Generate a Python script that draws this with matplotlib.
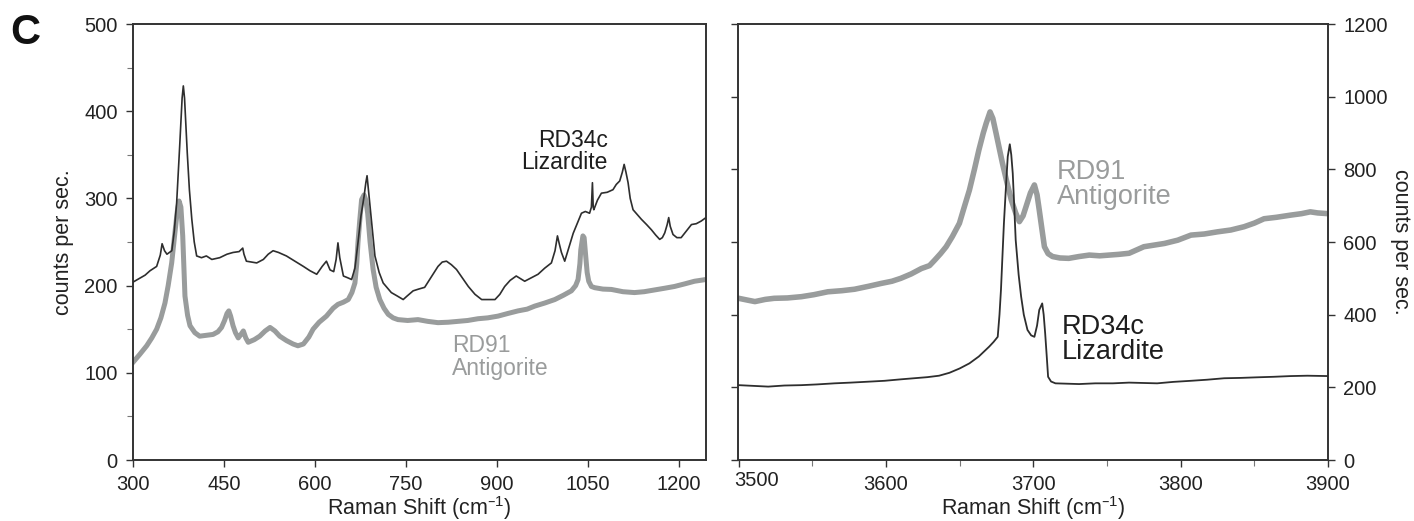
import matplotlib
matplotlib.use("Agg")
import matplotlib.pyplot as plt
from matplotlib.ticker import MultipleLocator
import matplotlib.transforms as mtransforms

plt.rcParams['font.family'] = ['Liberation Sans', 'DejaVu Sans']
plt.rcParams['mathtext.default'] = 'regular'

# ---------------- data ----------------
# Left panel: low-wavenumber region
lz_low_x = [300, 310, 320, 328, 339, 345, 348, 352, 356, 364, 368, 372, 377, 381, 383, 385, 389.5, 393, 397, 401,
            405, 413, 421, 430, 443, 455, 465, 475, 481, 483, 487, 496, 504, 515, 523, 531, 540, 553, 567, 581,
            592, 603, 612, 619, 625, 631, 635, 638, 641, 647, 654, 660.5, 666, 671, 676, 681, 684, 686, 688, 690.6,
            695, 699, 706, 712.6, 720, 726, 736, 745.6, 752, 762, 771, 781, 792, 803, 810, 817, 825, 833.5, 843, 853,
            864, 875, 886, 897, 905, 913, 922, 932, 939, 946, 957, 968, 979, 990, 996, 1000, 1003, 1006.6, 1012, 1019,
            1026, 1033, 1039.6, 1046, 1053, 1056, 1057.7, 1059, 1060, 1066, 1072.5, 1082, 1091.6, 1097, 1102.7, 1107,
            1110, 1113, 1116.5, 1120, 1124.7, 1131, 1138.5, 1147, 1155, 1162, 1168.6, 1173, 1177, 1181, 1183.5, 1186,
            1190.6, 1197, 1204, 1212, 1221, 1229, 1237, 1245]
lz_low_y = [204, 208, 212, 217, 222, 235, 248, 240, 236, 240, 262, 295, 360, 415, 429, 415, 352, 310, 276, 250,
            234, 232, 234, 230, 232, 236, 238, 239, 243, 236, 228, 227, 226, 230, 236, 240, 238, 234, 228, 222,
            217, 213, 222, 228, 218, 216, 230, 249, 232, 211, 209, 207, 220, 249, 280, 302, 318, 326, 312, 295,
            262, 234, 215, 203, 197, 192, 188, 184, 188, 194, 196, 198, 210, 222, 227, 228, 224, 218.5, 209, 199,
            190, 184, 184, 184, 190, 199, 206, 211, 208, 205, 209, 213, 220, 226, 240, 257, 248, 238, 228, 244,
            260, 272, 283, 285, 283, 290, 318, 290, 287, 298, 306, 307, 310, 316, 320, 330,
            339, 330, 318, 300, 287, 282, 276, 270, 264, 258, 253, 255, 260.5, 270, 278, 268,
            258.6, 255, 255, 262, 270, 271, 274, 278]

an_low_x = [300, 311, 322.6, 331, 339, 346, 352.7, 358, 363.8, 369, 373, 376, 379, 382, 384, 385.7, 390, 394, 402, 410,
            421, 432, 440, 446, 451, 455, 458, 461, 465, 469, 473.6, 478, 482, 486, 490, 500, 509, 518, 526, 534,
            542, 553, 564, 572, 581, 590, 597, 607, 619, 630, 638, 647, 655, 661, 666, 669, 671, 674, 677, 681,
            684, 687, 691, 696, 701, 707, 714, 721, 729, 737, 753, 770, 786, 803, 820, 836, 852, 869, 885, 902,
            918, 935, 950, 962.6, 979, 995.6, 1010, 1023, 1030, 1034, 1037, 1038.5, 1042, 1044, 1046.6, 1049, 1051.6,
            1056, 1061.5, 1075, 1089, 1108, 1127, 1143, 1160, 1177, 1193, 1210, 1226, 1245]
an_low_y = [112, 121, 131, 140, 150, 163, 180, 200, 226, 260, 285, 297, 290, 257, 220, 188, 166, 154, 146, 142,
            143, 144, 147, 152, 160, 168, 171, 165, 154, 146, 140, 144, 148, 140, 135, 138, 142, 148, 152, 148,
            142, 137, 133, 131, 133, 141, 150, 158, 165, 174, 178.5, 181, 184, 192, 203, 225, 249, 275, 298.6, 304,
            298, 283, 250, 218.5, 198, 184, 174, 167, 163, 161, 160, 161, 159, 157.5, 158, 159, 160, 162, 163, 165,
            168, 171, 173, 176.5, 180, 184, 189, 194, 200, 207, 225, 241, 257, 255, 234, 215, 205,
            199, 197.6, 196, 195.6, 193, 192, 193, 195, 197, 199, 202, 205, 207]

# Right panel: OH-stretching region
an_oh_x = [3500, 3506, 3511, 3518, 3524, 3533, 3542.5, 3551, 3560.5, 3570, 3578.6, 3588, 3596.7, 3604, 3610, 3617,
           3624, 3629.5, 3633, 3637, 3640.8, 3645, 3649.8, 3653, 3656.6, 3660, 3663, 3666, 3668, 3670.6, 3672.5,
           3674.7, 3677, 3679, 3682, 3685, 3688, 3690.5, 3693, 3695, 3698, 3700.7, 3702.5, 3704, 3706, 3707.5,
           3710, 3713, 3718, 3724, 3731, 3738, 3745, 3751.5, 3758, 3765, 3775, 3789, 3798, 3807, 3816, 3825, 3834,
           3843, 3850, 3856.6, 3865, 3874.7, 3882, 3888, 3893, 3900]
an_oh_y = [445, 440, 436, 442, 445, 446, 449.5, 455, 463, 466, 470, 478, 486, 492, 500, 512,
           527, 535, 550, 568, 587, 615, 651.5, 695, 743, 800, 853, 900, 927, 958, 940,
           899, 855, 817, 765, 716, 680, 656, 672, 697, 735, 757, 730, 688, 630, 587,
           568, 560, 556, 555, 560, 564, 562, 564, 566, 569, 587, 596, 605, 619, 622, 628, 633,
           642, 652, 664, 668, 674, 678, 683, 680, 678]

lz_oh_x = [3500, 3510, 3520, 3531, 3542.5, 3553, 3565, 3576, 3587.7, 3599, 3610, 3619, 3628, 3636, 3643, 3650,
           3656.6, 3663, 3670, 3673, 3675.8, 3677, 3678, 3679, 3680, 3681.5, 3682.6, 3684, 3685, 3686, 3687,
           3688, 3690, 3691.7, 3693.5, 3696, 3698.5, 3700.7, 3702.5, 3704, 3706, 3707, 3708, 3709, 3710, 3712,
           3715, 3723, 3731, 3742, 3754, 3765, 3784, 3795, 3807, 3818, 3829.5, 3841, 3852, 3863, 3874.7, 3886, 3900]
lz_oh_y = [206, 204, 202, 205, 206, 208, 211, 213, 215.5, 218, 222, 225, 228, 232, 240, 252,
           266, 285, 312, 325, 339, 400, 468, 560, 651, 760, 835, 869, 840, 789, 700,
           605.5, 510, 449.5, 400, 358, 343, 339, 370, 413, 431, 400, 349, 290, 229, 216,
           211, 210, 209, 211, 211, 213, 211, 215, 218, 221, 225, 226, 227.6, 229, 231, 232, 231]

low_ticks = [300, 450, 600, 750, 900, 1050, 1200]
oh_ticks = [3500, 3600, 3700, 3800, 3900]
oh_ticklabels = ['3500', '3600', '3700', '3800', '3900']
left_yticks = [0, 100, 200, 300, 400, 500]
right_yticks = [0, 200, 400, 600, 800, 1000, 1200]

DARK = '#2e2e2e'
GRAY = '#999c9c'
SPINE = '#333333'
TXT = '#222222'
TICKFS = 14.5
LABFS = 15.5

fig = plt.figure(figsize=(14.14, 5.21), dpi=100)
ax1 = fig.add_axes([133/1414, 61/521, 573/1414, 436/521])
ax2 = fig.add_axes([738/1414, 61/521, 590/1414, 436/521])

# left panel
ax1.plot(an_low_x, an_low_y, color=GRAY, lw=3.6, solid_joinstyle='round', zorder=2)
ax1.plot(lz_low_x, lz_low_y, color=DARK, lw=1.2, zorder=3)
ax1.set_xlim(300, 1245)
ax1.set_ylim(0, 500)
ax1.set_xticks(low_ticks)
ax1.set_yticks(left_yticks)
ax1.yaxis.set_minor_locator(MultipleLocator(50))
ax1.set_xlabel('Raman Shift (cm$^{\u2013\mathregular{1}}$)', fontsize=LABFS, labelpad=0, color=TXT)
ax1.set_ylabel('counts per sec.', fontsize=LABFS, labelpad=7, color=TXT)
ax1.text(1083, 380, 'RD34c\nLizardite', ha='right', va='top', fontsize=16.5, color='#1e1e1e',
         linespacing=0.95)
ax1.text(826, 144, 'RD91\nAntigorite', ha='left', va='top', fontsize=16.5, color='#9a9c9c',
         linespacing=0.95)

# right panel
ax2.plot(an_oh_x, an_oh_y, color=GRAY, lw=4.0, solid_joinstyle='round', zorder=2)
ax2.plot(lz_oh_x, lz_oh_y, color=DARK, lw=1.3, zorder=3)
ax2.set_xlim(3499.5, 3900)
ax2.set_ylim(0, 1200)
ax2.set_xticks(oh_ticks)
ax2.set_xticklabels([''] + oh_ticklabels[1:])
ax2.xaxis.set_minor_locator(MultipleLocator(50))
ax2.set_yticks(right_yticks)
ax2.tick_params(axis='y', which='both', left=True, right=True, labelleft=False, labelright=True)
ax2.yaxis.set_label_position('right')
ax2.set_xlabel('Raman Shift (cm$^{\u2013\mathregular{1}}$)', fontsize=LABFS, labelpad=0, color=TXT)
ax2.set_ylabel('counts per sec.', fontsize=LABFS, rotation=270, labelpad=17, color=TXT)
ax2.text(3716, 828, 'RD91\nAntigorite', ha='left', va='top', fontsize=19.5, color='#9a9c9c',
         linespacing=0.95)
ax2.text(3719, 401, 'RD34c\nLizardite', ha='left', va='top', fontsize=19.5, color='#1e1e1e',
         linespacing=0.95)

for ax in (ax1, ax2):
    for s in ax.spines.values():
        s.set_color(SPINE)
        s.set_linewidth(1.4)
    ax.tick_params(which='major', direction='out', length=5, width=1.0, colors=SPINE,
                   labelsize=TICKFS, labelcolor=TXT, pad=6)
    ax.tick_params(which='minor', direction='out', length=4, width=0.8, colors='#777777')

# first OH tick label sits shifted right of its tick, as in the reference
shift = mtransforms.ScaledTranslation(18/100, -11/100, fig.dpi_scale_trans)
lbl_tr = mtransforms.blended_transform_factory(ax2.transData, ax2.transAxes) + shift
ax2.text(oh_ticks[0], 0, oh_ticklabels[0], transform=lbl_tr, ha='center', va='top',
         fontsize=TICKFS, color=TXT)

fig.text(0.007, 0.975, 'C', fontsize=30, fontweight='bold', ha='left', va='top', color='#111111')

fig.savefig('out.png', dpi=100)
